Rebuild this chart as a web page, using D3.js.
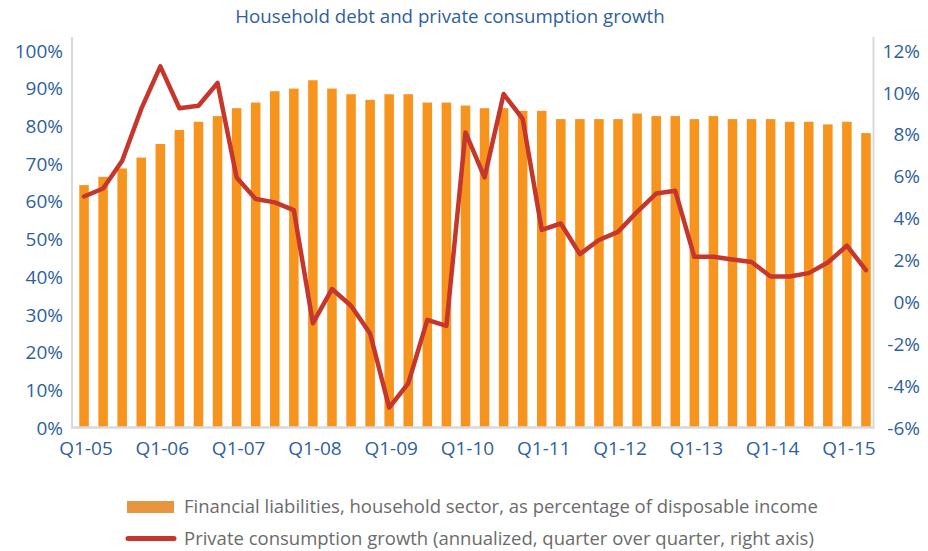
<!DOCTYPE html>
<html>
<head>
<meta charset="utf-8">
<script src="https://cdn.jsdelivr.net/npm/d3@7"></script>
<style>
  html, body { margin: 0; padding: 0; background: #fff; }
  svg { display: block; font-family: "Open Sans", sans-serif; }
</style>
</head>
<body>
<svg id="chart" width="928" height="551"></svg>
<script>
const quarters = [
  "Q1-05","Q2-05","Q3-05","Q4-05","Q1-06","Q2-06","Q3-06","Q4-06",
  "Q1-07","Q2-07","Q3-07","Q4-07","Q1-08","Q2-08","Q3-08","Q4-08",
  "Q1-09","Q2-09","Q3-09","Q4-09","Q1-10","Q2-10","Q3-10","Q4-10",
  "Q1-11","Q2-11","Q3-11","Q4-11","Q1-12","Q2-12","Q3-12","Q4-12",
  "Q1-13","Q2-13","Q3-13","Q4-13","Q1-14","Q2-14","Q3-14","Q4-14",
  "Q1-15","Q2-15"
];
const debtRatio = [
  64.3, 66.5, 68.7, 71.6, 75.2, 78.9, 81.1, 82.6,
  84.7, 86.2, 89.2, 89.9, 92.1, 89.9, 88.4, 86.9,
  88.4, 88.4, 86.2, 86.2, 85.4, 84.7, 84.7, 84.0,
  84.0, 81.8, 81.8, 81.8, 81.8, 83.3, 82.6, 82.6,
  81.8, 82.6, 81.8, 81.8, 81.8, 81.1, 81.1, 80.4,
  81.1, 78.1
];
const consumptionGrowth = [
  5.03, 5.41, 6.74, 9.21, 11.24, 9.24, 9.36, 10.45,
  5.94, 4.91, 4.75, 4.38, -1.02, 0.61, -0.19, -1.51,
  -5.05, -3.89, -0.86, -1.15, 8.09, 5.94, 9.92, 8.73,
  3.43, 3.74, 2.28, 2.95, 3.34, 4.30, 5.17, 5.30,
  2.15, 2.15, 2.02, 1.90, 1.21, 1.21, 1.37, 1.88,
  2.68, 1.51
];
const xTickLabels = ["Q1-05","Q1-06","Q1-07","Q1-08","Q1-09","Q1-10","Q1-11","Q1-12","Q1-13","Q1-14","Q1-15"];
const leftTicks = [0,10,20,30,40,50,60,70,80,90,100];
const rightTicks = [-6,-4,-2,0,2,4,6,8,10,12];
const legendLabels = [
  "Financial liabilities, household sector, as percentage of disposable income",
  "Private consumption growth (annualized, quarter over quarter, right axis)"
];
const title = "Household debt and private consumption growth";

const svg = d3.select("#chart");
const blue = "#2f5f9f";
const barColor = "#f7941e";
const lineColor = "#c5372c";
const axisGray = "#d9d9d9";

const x = d3.scaleBand().domain(quarters).range([74.5, 875.5]).paddingInner(0.5).paddingOuter(0.25);
const yL = d3.scaleLinear().domain([0, 100]).range([427.5, 50.5]);
const yR = d3.scaleLinear().domain([-6, 12]).range([427.5, 50.5]);

// title
svg.append("text").attr("x", 450).attr("y", 23).attr("text-anchor", "middle")
  .attr("fill", blue).attr("font-size", 18.7).text(title);

// bars
svg.append("g").selectAll("rect").data(debtRatio).join("rect")
  .attr("x", (d, i) => x(quarters[i]))
  .attr("width", x.bandwidth())
  .attr("y", d => yL(d))
  .attr("height", d => yL(0) - yL(d))
  .attr("fill", barColor);

// axis frame lines
svg.append("line").attr("x1", 72).attr("x2", 72).attr("y1", 37).attr("y2", 428.5)
  .attr("stroke", axisGray).attr("stroke-width", 2);
svg.append("line").attr("x1", 873.5).attr("x2", 873.5).attr("y1", 37).attr("y2", 428.5)
  .attr("stroke", axisGray).attr("stroke-width", 2);
svg.append("line").attr("x1", 71).attr("x2", 874.5).attr("y1", yL(0)).attr("y2", yL(0))
  .attr("stroke", axisGray).attr("stroke-width", 2.5);

// left axis
const axL = d3.axisLeft(yL).tickValues(leftTicks).tickFormat(d => d + "%").tickSize(0).tickPadding(0);
const gL = svg.append("g").attr("transform", "translate(63,0)").call(axL);
gL.select(".domain").remove();
gL.selectAll("text").attr("fill", blue).attr("font-size", 19).attr("font-family", "Open Sans, sans-serif").attr("dy", "0.35em");

// right axis
const axR = d3.axisRight(yR).tickValues(rightTicks).tickFormat(d => d + "%").tickSize(0).tickPadding(0);
const gR = svg.append("g").attr("transform", "translate(920,0)").call(axR);
gR.select(".domain").remove();
gR.selectAll("text").attr("fill", blue).attr("font-size", 19).attr("font-family", "Open Sans, sans-serif")
  .attr("text-anchor", "end").attr("dy", "0.35em");

// x axis labels
const axX = d3.axisBottom(x).tickValues(xTickLabels).tickSize(0).tickPadding(0);
const gX = svg.append("g").attr("transform", "translate(2,441)").call(axX);
gX.select(".domain").remove();
gX.selectAll("text").attr("fill", blue).attr("font-size", 19).attr("font-family", "Open Sans, sans-serif").attr("dy", "0.71em");

// line
const line = d3.line()
  .x((d, i) => x(quarters[i]) + x.bandwidth() / 2)
  .y(d => yR(d));
svg.append("path").datum(consumptionGrowth).attr("d", line)
  .attr("fill", "none").attr("stroke", lineColor).attr("stroke-width", 4.5)
  .attr("stroke-linejoin", "round").attr("stroke-linecap", "round");

// legend
const lg = svg.append("g");
lg.append("rect").attr("x", 127).attr("y", 501).attr("width", 47).attr("height", 12).attr("fill", "#e8953f");
lg.append("text").attr("x", 184).attr("y", 507).attr("dy", "0.35em").attr("fill", "#6b6b6b")
  .attr("font-size", 18.5).text(legendLabels[0]);
lg.append("line").attr("x1", 128).attr("x2", 174).attr("y1", 538.5).attr("y2", 538.5)
  .attr("stroke", lineColor).attr("stroke-width", 5).attr("stroke-linecap", "round");
lg.append("text").attr("x", 184).attr("y", 539).attr("dy", "0.35em").attr("fill", "#6b6b6b")
  .attr("font-size", 18.5).text(legendLabels[1]);
</script>
</body>
</html>
